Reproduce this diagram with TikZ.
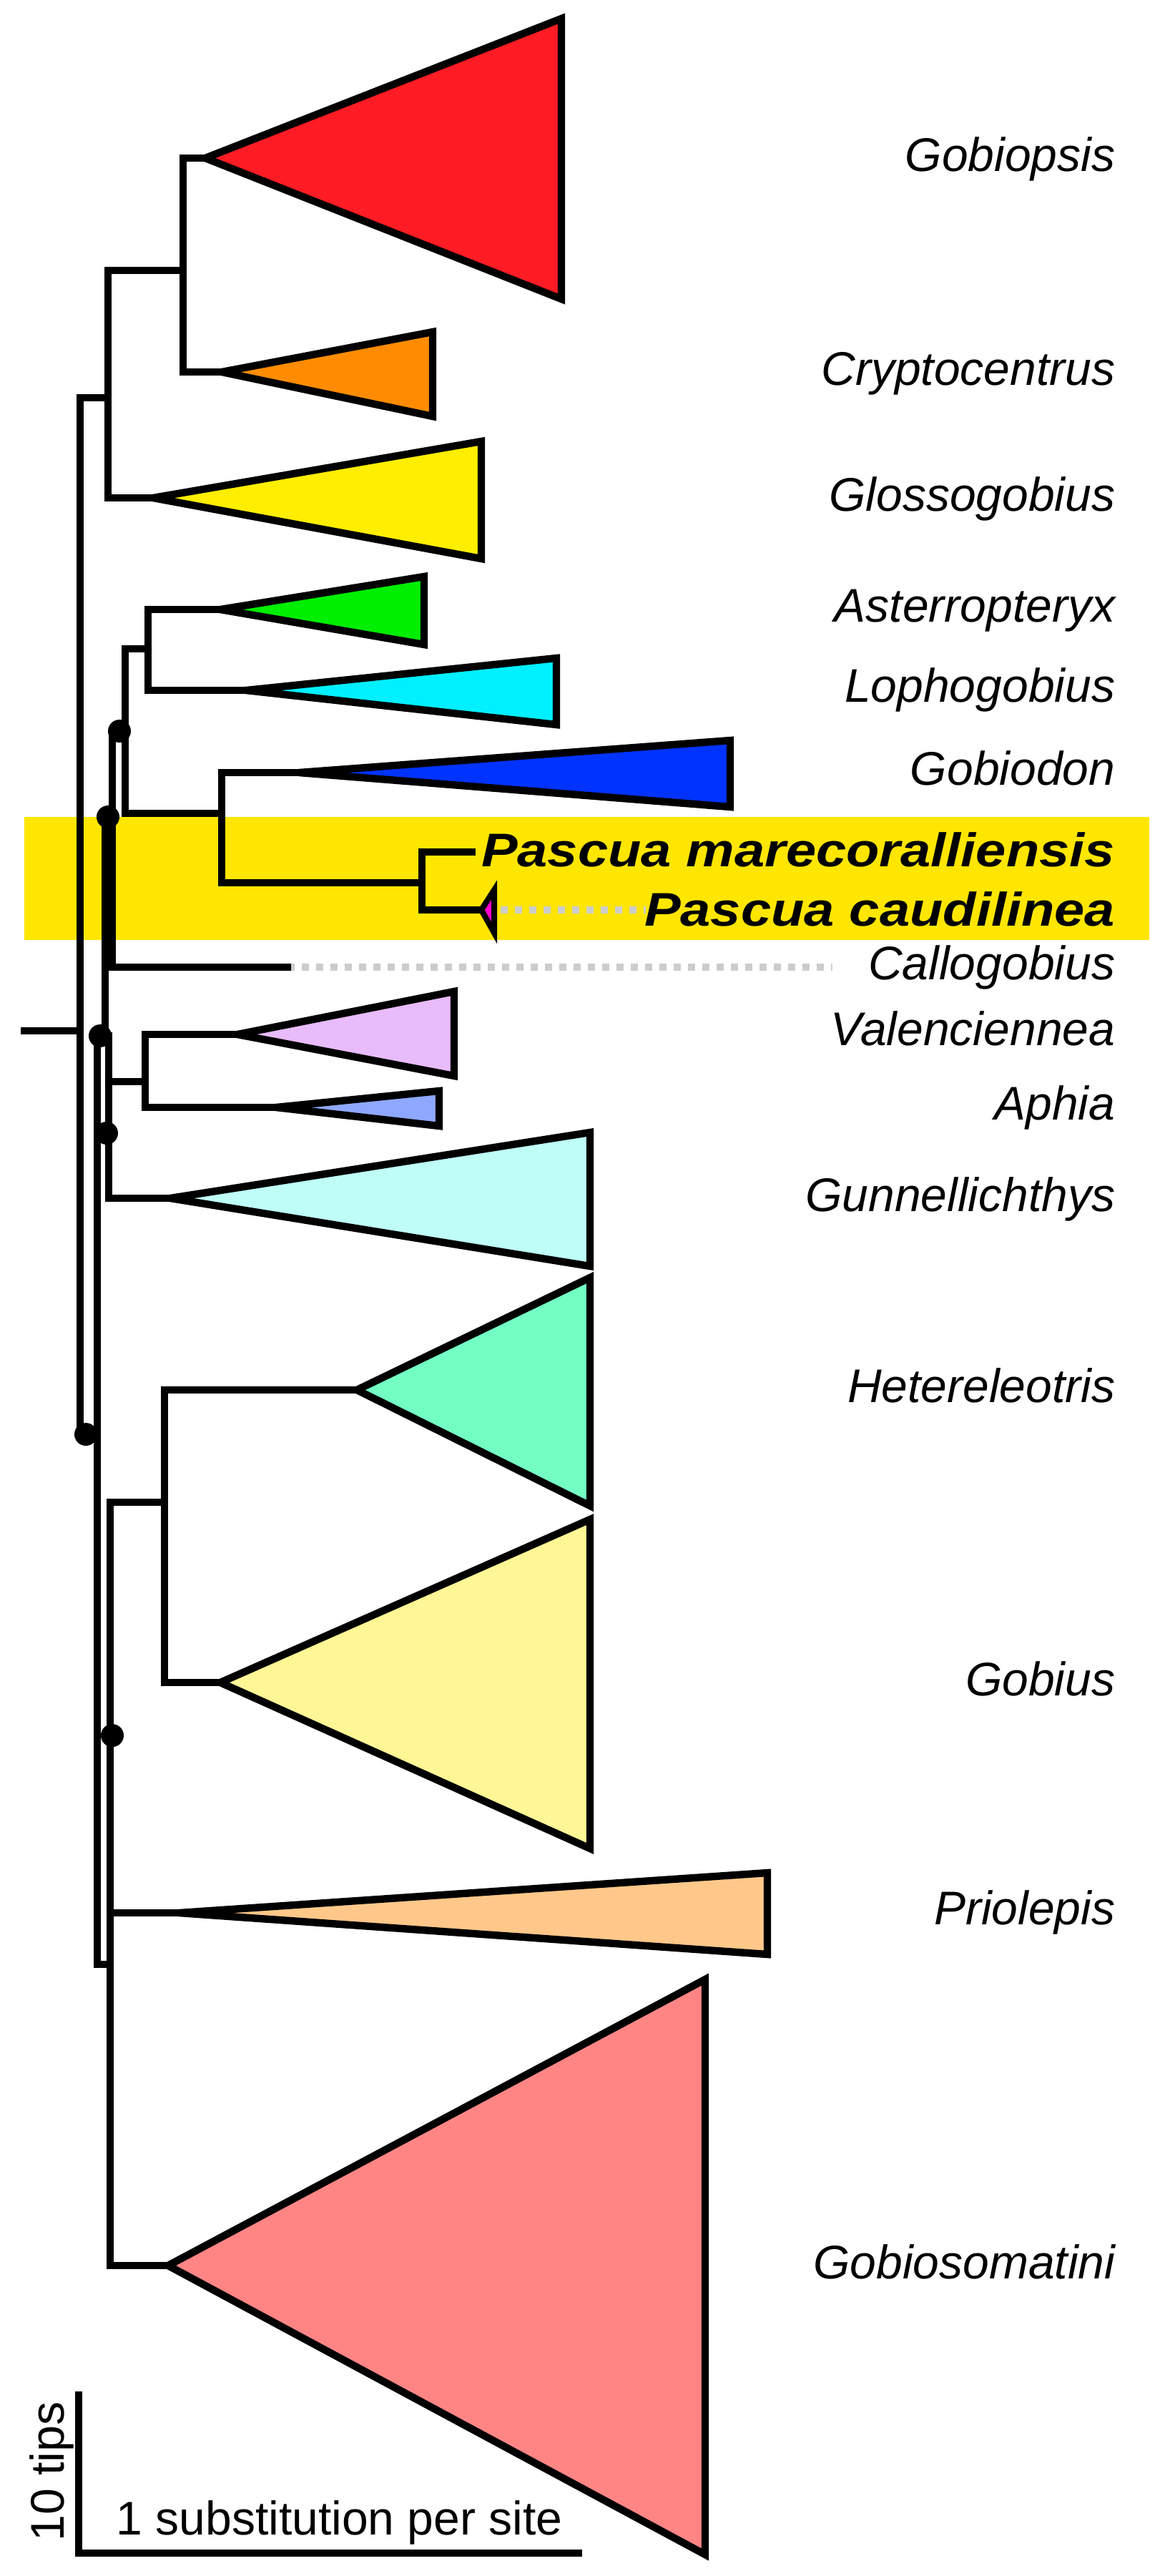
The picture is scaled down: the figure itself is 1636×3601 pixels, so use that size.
\documentclass[tikz,border=0pt]{standalone}
\usepackage{fontspec}
\setmainfont{Liberation Sans}
\newfontfamily\widebold{Liberation Sans}[FakeStretch=1.15]
\definecolor{cGobiopsis}{HTML}{FF1C24}
\definecolor{cCrypto}{HTML}{FF8C00}
\definecolor{cGloss}{HTML}{FFEE00}
\definecolor{cAst}{HTML}{00EE00}
\definecolor{cLoph}{HTML}{00F0FF}
\definecolor{cGobiodon}{HTML}{0033FF}
\definecolor{cVal}{HTML}{E8BBFA}
\definecolor{cAph}{HTML}{8FA8FF}
\definecolor{cGun}{HTML}{BFFDF7}
\definecolor{cHet}{HTML}{73FFC4}
\definecolor{cGobius}{HTML}{FFF796}
\definecolor{cPrio}{HTML}{FFC88A}
\definecolor{cGsom}{HTML}{FF8585}
\definecolor{cBand}{HTML}{FFE600}
\definecolor{cMag}{HTML}{FF00CC}
\definecolor{cDash}{HTML}{CCCCCC}
\begin{document}
\begin{tikzpicture}[x=0.25pt,y=-0.25pt,
  br/.style={line width=2.4pt,line cap=rect,line join=miter},
  tri/.style={line width=2.6pt,line join=miter,draw=black},
  lab/.style={anchor=base east,inner sep=0pt,font=\fontsize{16.5}{19}\selectfont\itshape},
  blab/.style={anchor=base east,inner sep=0pt,font=\widebold\fontsize{16.5}{19}\selectfont\bfseries\itshape},
  gdash/.style={draw=cDash,line width=2.4pt,dash pattern=on 2.5pt off 2.5pt},
  dot/.style={circle,fill=black,inner sep=0pt,minimum size=8pt}]
\path[use as bounding box,fill=white] (0,0) rectangle (1636,3601);
\fill[cBand] (34,1142) rectangle (1607,1314);
% coordinates
\coordinate (cRoot) at (34,1441);
\coordinate (nS) at (112,1441);
\coordinate (nG2) at (151,556);
\coordinate (nG1) at (256,378);
\coordinate (tGobiopsis) at (287,221);
\coordinate (tCrypto) at (310,520);
\coordinate (tGloss) at (214,696);
\coordinate (nN3) at (136,2005);
\coordinate (nN2) at (147,1448);
\coordinate (nN4) at (152,1448);
\coordinate (nBot) at (154,2746);
\coordinate (nN1) at (157,1142);
\coordinate (nVA) at (203,1512);
\coordinate (tGun) at (238,1675);
\coordinate (tVal) at (332,1446);
\coordinate (tAph) at (386,1548);
\coordinate (nA) at (175,1022);
\coordinate (tCall) at (402,1352);
\coordinate (dCall) at (1164,1352);
\coordinate (nAL) at (207,907);
\coordinate (nGP) at (310,1137);
\coordinate (tAst) at (308,852);
\coordinate (tLoph) at (344,965);
\coordinate (tGobiodon) at (418,1080);
\coordinate (nP) at (590,1234);
\coordinate (tMare) at (660,1191);
\coordinate (tCaud) at (673,1272);
\coordinate (sCaud) at (700,1272);
\coordinate (dCaud) at (903,1272);
\coordinate (nHG) at (230,2100);
\coordinate (tPrio) at (250,2674);
\coordinate (tGsom) at (235,3167);
\coordinate (tHet) at (499,1943);
\coordinate (tGobius) at (308,2352);
% dashed
\draw[gdash] (tCall) -- (dCall);
\draw[gdash] (sCaud) -- (dCaud);
% branches
\draw[br] (cRoot) -- (nS);
\draw[br] (nG2) -| (nS) |- (nN3);
\draw[br] (nG1) -| (nG2) |- (tGloss);
\draw[br] (tGobiopsis) -| (nG1) |- (tCrypto);
\draw[br] (nN2) -| (nN3) |- (nBot);
\draw[br] (nN1) -| (nN2) |- (nN4);
\draw[br] (nVA) -| (nN4) |- (tGun);
\draw[br] (tVal) -| (nVA) |- (tAph);
\draw[br] (nA) -| (nN1) |- (tCall);
\draw[br] (nAL) -| (nA) |- (nGP);
\draw[br] (tAst) -| (nAL) |- (tLoph);
\draw[br] (tGobiodon) -| (nGP) |- (nP);
\draw[br] (tMare) -| (nP) |- (tCaud);
\draw[br] (nHG) -| (nBot) |- (tGsom);
\draw[br] (nBot) |- (tPrio);
\draw[br] (tHet) -| (nHG) |- (tGobius);
% triangles
\draw[tri,fill=cGobiopsis] (tGobiopsis) -- (785,26) -- (785,418) -- cycle;
\draw[tri,fill=cCrypto] (tCrypto) -- (605,464) -- (605,582) -- cycle;
\draw[tri,fill=cGloss] (tGloss) -- (673,617) -- (673,781) -- cycle;
\draw[tri,fill=cAst] (tAst) -- (593,806) -- (593,901) -- cycle;
\draw[tri,fill=cLoph] (tLoph) -- (778,920) -- (778,1013) -- cycle;
\draw[tri,fill=cGobiodon] (tGobiodon) -- (1021,1035) -- (1021,1128) -- cycle;
\draw[tri,fill=cMag,line width=2pt] (tCaud) -- (691,1244) -- (691,1304) -- cycle;
\draw[tri,fill=cVal] (tVal) -- (635,1386) -- (635,1504) -- cycle;
\draw[tri,fill=cAph] (tAph) -- (614,1525) -- (614,1574) -- cycle;
\draw[tri,fill=cGun] (tGun) -- (825,1583) -- (825,1770) -- cycle;
\draw[tri,fill=cHet] (tHet) -- (825,1786) -- (825,2105) -- cycle;
\draw[tri,fill=cGobius] (tGobius) -- (825,2124) -- (825,2584) -- cycle;
\draw[tri,fill=cPrio] (tPrio) -- (1073,2618) -- (1073,2732) -- cycle;
\draw[tri,fill=cGsom] (tGsom) -- (986,2767) -- (986,3571) -- cycle;
% support dots
\node[dot] (d1) at (167,1022) {};
\node[dot] (d2) at (151,1142) {};
\node[dot] (d3) at (140,1448) {};
\node[dot] (d4) at (149,1584) {};
\node[dot] (d5) at (120,2005) {};
\node[dot] (d6) at (157,2426) {};
% labels
\node[lab] (lGobiopsis) at (1560,239) {Gobiopsis};
\node[lab] (lCrypto) at (1560,538) {Cryptocentrus};
\node[lab] (lGloss) at (1560,714) {Glossogobius};
\node[lab] (lAst) at (1560,869) {Asterropteryx};
\node[lab] (lLoph) at (1560,981) {Lophogobius};
\node[lab] (lGobiodon) at (1560,1097) {Gobiodon};
\node[blab] (lMare) at (1560,1211) {Pascua marecoralliensis};
\node[blab] (lCaud) at (1560,1294) {Pascua caudilinea};
\node[lab] (lCall) at (1560,1369) {Callogobius};
\node[lab] (lVal) at (1560,1461) {Valenciennea};
\node[lab] (lAph) at (1560,1565) {Aphia};
\node[lab] (lGun) at (1560,1693) {Gunnellichthys};
\node[lab] (lHet) at (1560,1960) {Hetereleotris};
\node[lab] (lGobius) at (1560,2370) {Gobius};
\node[lab] (lPrio) at (1560,2690) {Priolepis};
\node[lab] (lGsom) at (1560,3185) {Gobiosomatini};
% scale bar
\coordinate (sTop) at (110,3343);
\coordinate (sCorner) at (110,3569);
\coordinate (sRight) at (814,3569);
\draw[br,line cap=butt] (sTop) -- (sCorner) -- (sRight);
\node[anchor=base west,inner sep=0pt,font=\fontsize{16.5}{19}\selectfont] (lSub) at (162,3543) {1 substitution per site};
\node[anchor=base,rotate=90,inner sep=0pt,font=\fontsize{16.5}{19}\selectfont] (lTips) at (89,3455) {10 tips};
\end{tikzpicture}
\end{document}
